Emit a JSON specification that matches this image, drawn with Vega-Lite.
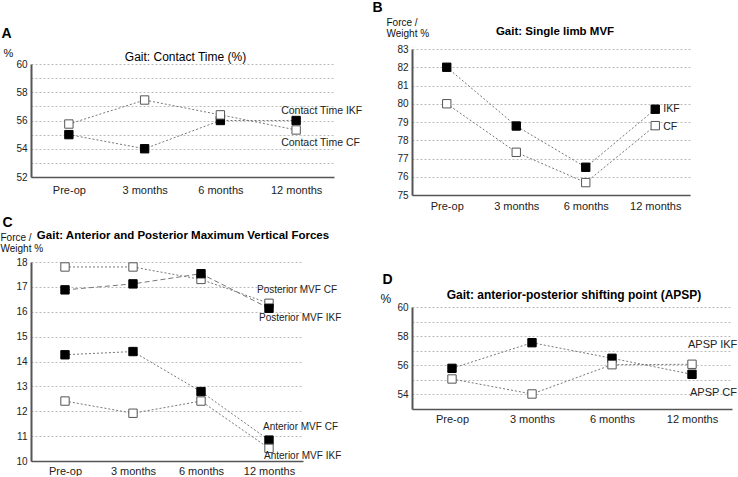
{
  "$schema": "https://vega.github.io/schema/vega-lite/v6.json",
  "background": "white",
  "padding": {"top": 0, "left": 0, "right": 0, "bottom": 0},
  "config": {
    "font": "Liberation Sans",
    "view": {"stroke": null},
    "axis": {
      "labelFont": "Liberation Sans",
      "titleFont": "Liberation Sans",
      "ticks": false,
      "domainColor": "#555",
      "labelColor": "#222",
      "titleColor": "#111"
    },
    "axisX": {
      "domainWidth": 1.5,
      "labelFontSize": 11,
      "labelPadding": 4,
      "labelAngle": 0,
      "grid": false,
      "titleFontSize": 14,
      "titleFontWeight": "bold",
      "titleAlign": "left",
      "titleBaseline": "middle",
      "titleColor": "black"
    },
    "axisY": {
      "domainWidth": 2,
      "labelFontSize": 10,
      "labelPadding": 4,
      "grid": true,
      "gridDash": [2, 2],
      "gridColor": "#bbb",
      "titleAngle": 0,
      "titleAlign": "left",
      "titleBaseline": "bottom",
      "titleFontSize": 10,
      "titleFontWeight": "normal",
      "titleLineHeight": 11
    },
    "title": {"font": "Liberation Sans", "fontSize": 12, "fontWeight": "bold", "frame": "group", "anchor": "middle", "color": "black"},
    "text": {"font": "Liberation Sans", "fontSize": 10, "align": "left", "baseline": "middle", "color": "#222"},
    "point": {"shape": "square", "size": 70, "filled": true, "opacity": 1, "strokeWidth": 1}
  },
  "bounds": "flush",
  "spacing": 381,
  "hconcat": [
    {
      "bounds": "flush",
      "spacing": 0,
      "vconcat": [
        {"width": 10, "height": 15, "data": {"values": [{}]}, "mark": {"type": "point", "opacity": 0}, "encoding": {}},
        {
          "bounds": "flush",
          "spacing": 85,
          "vconcat": [
            {
              "width": 303,
              "height": 113,
              "title": {"text": "Gait: Contact Time (%)", "fontWeight": "normal", "dy": 42, "dx": 3},
              "data": {"values": [
                {"month": "Pre-op", "series": "IKF", "limb": "IKF", "value": 55.0},
                {"month": "3 months", "series": "IKF", "limb": "IKF", "value": 54.0},
                {"month": "6 months", "series": "IKF", "limb": "IKF", "value": 56.0},
                {"month": "12 months", "series": "IKF", "limb": "IKF", "value": 56.0},
                {"month": "Pre-op", "series": "CF", "limb": "CF", "value": 55.75},
                {"month": "3 months", "series": "CF", "limb": "CF", "value": 57.45},
                {"month": "6 months", "series": "CF", "limb": "CF", "value": 56.4},
                {"month": "12 months", "series": "CF", "limb": "CF", "value": 55.33}
              ]},
              "encoding": {
                "x": {"field": "month", "type": "ordinal", "sort": ["Pre-op", "3 months", "6 months", "12 months"],
                      "scale": {"type": "point", "padding": 0.5},
                      "axis": {"title": "A", "titleX": -30, "titleY": -144, "labelPadding": 7}},
                "y": {"field": "value", "type": "quantitative", "scale": {"domain": [52, 60], "nice": false, "zero": false},
                      "axis": {"title": "%", "titleFontSize": 11, "titleX": -28, "titleY": -6,
                               "values": [52, 53, 54, 55, 56, 57, 58, 59, 60],
                               "labelExpr": "datum.value % 2 == 0 ? datum.label : ''"}}
              },
              "layer": [
                {"mark": {"type": "line", "stroke": "#777", "strokeWidth": 1, "strokeDash": [2, 2]}, "encoding": {"detail": {"field": "series"}}},
                {"mark": {"type": "point"},
                 "encoding": {
                   "fill": {"field": "limb", "type": "nominal", "scale": {"domain": ["IKF", "CF"], "range": ["black", "white"]}, "legend": null},
                   "stroke": {"field": "limb", "type": "nominal", "scale": {"domain": ["IKF", "CF"], "range": ["black", "#555"]}, "legend": null}
                 }},
                {"data": {"values": [{"month": "12 months", "value": 56.0, "label": "Contact Time IKF"}]},
                 "mark": {"type": "text", "dx": -15, "dy": -10, "fontSize": 10.5}, "encoding": {"text": {"field": "label"}}},
                {"data": {"values": [{"month": "12 months", "value": 55.33, "label": "Contact Time CF"}]},
                 "mark": {"type": "text", "dx": -15, "dy": 13, "fontSize": 10.5}, "encoding": {"text": {"field": "label"}}}
              ]
            },
            {
              "width": 272,
              "height": 199,
              "title": {"text": "Gait: Anterior and Posterior Maximum Vertical Forces", "fontSize": 11.5, "dy": 30, "dx": 16},
              "data": {"values": [
                {"month": "Pre-op", "series": "Posterior CF", "limb": "CF", "value": 17.8},
                {"month": "3 months", "series": "Posterior CF", "limb": "CF", "value": 17.8},
                {"month": "6 months", "series": "Posterior CF", "limb": "CF", "value": 17.3},
                {"month": "12 months", "series": "Posterior CF", "limb": "CF", "value": 16.34},
                {"month": "Pre-op", "series": "Posterior IKF", "limb": "IKF", "value": 16.88},
                {"month": "3 months", "series": "Posterior IKF", "limb": "IKF", "value": 17.12},
                {"month": "6 months", "series": "Posterior IKF", "limb": "IKF", "value": 17.53},
                {"month": "12 months", "series": "Posterior IKF", "limb": "IKF", "value": 16.14},
                {"month": "Pre-op", "series": "Anterior IKF", "limb": "IKF", "value": 14.27},
                {"month": "3 months", "series": "Anterior IKF", "limb": "IKF", "value": 14.4},
                {"month": "6 months", "series": "Anterior IKF", "limb": "IKF", "value": 12.79},
                {"month": "12 months", "series": "Anterior IKF", "limb": "IKF", "value": 10.84},
                {"month": "Pre-op", "series": "Anterior CF", "limb": "CF", "value": 12.41},
                {"month": "3 months", "series": "Anterior CF", "limb": "CF", "value": 11.92},
                {"month": "6 months", "series": "Anterior CF", "limb": "CF", "value": 12.41},
                {"month": "12 months", "series": "Anterior CF", "limb": "CF", "value": 10.51}
              ]},
              "encoding": {
                "x": {"field": "month", "type": "ordinal", "sort": ["Pre-op", "3 months", "6 months", "12 months"],
                      "scale": {"type": "point", "padding": 0.5},
                      "axis": {"title": "C", "titleX": -29, "titleY": -239}},
                "y": {"field": "value", "type": "quantitative", "scale": {"domain": [10, 18], "nice": false, "zero": false},
                      "axis": {"title": ["Force /", "Weight %"], "titleX": -31, "titleY": -20,
                               "values": [10, 10.5, 11, 11.5, 12, 12.5, 13, 13.5, 14, 14.5, 15, 15.5, 16, 16.5, 17, 17.5, 18],
                               "format": "d",
                               "labelExpr": "datum.value % 1 == 0 ? datum.label : ''"}}
              },
              "layer": [
                {"mark": {"type": "line", "stroke": "#777", "strokeWidth": 1},
                 "encoding": {
                   "detail": {"field": "series"},
                   "strokeDash": {"field": "series", "type": "nominal",
                                  "scale": {"domain": ["Posterior CF", "Posterior IKF", "Anterior IKF", "Anterior CF"], "range": [[2, 2], [5, 3], [2, 2], [2, 2]]},
                                  "legend": null}
                 }},
                {"mark": {"type": "point"},
                 "encoding": {
                   "fill": {"field": "limb", "type": "nominal", "scale": {"domain": ["IKF", "CF"], "range": ["black", "white"]}, "legend": null},
                   "stroke": {"field": "limb", "type": "nominal", "scale": {"domain": ["IKF", "CF"], "range": ["black", "#555"]}, "legend": null}
                 }},
                {"data": {"values": [{"month": "12 months", "value": 16.34, "label": "Posterior MVF CF"}]},
                 "mark": {"type": "text", "dx": -12, "dy": -13}, "encoding": {"text": {"field": "label"}}},
                {"data": {"values": [{"month": "12 months", "value": 16.14, "label": "Posterior MVF IKF"}]},
                 "mark": {"type": "text", "dx": -10, "dy": 10}, "encoding": {"text": {"field": "label"}}},
                {"data": {"values": [{"month": "12 months", "value": 10.84, "label": "Anterior MVF CF"}]},
                 "mark": {"type": "text", "dx": -6, "dy": -13}, "encoding": {"text": {"field": "label"}}},
                {"data": {"values": [{"month": "12 months", "value": 10.51, "label": "Anterior MVF IKF"}]},
                 "mark": {"type": "text", "dx": -5, "dy": 8}, "encoding": {"text": {"field": "label"}}}
              ]
            }
          ]
        }
      ]
    },
    {
      "bounds": "flush",
      "spacing": 112,
      "vconcat": [
        {
          "width": 278,
          "height": 146,
          "title": {"text": "Gait: Single limb MVF", "fontSize": 11.5, "dy": 41, "dx": 4},
          "data": {"values": [
            {"month": "Pre-op", "series": "IKF", "limb": "IKF", "value": 82.0},
            {"month": "3 months", "series": "IKF", "limb": "IKF", "value": 78.78},
            {"month": "6 months", "series": "IKF", "limb": "IKF", "value": 76.52},
            {"month": "12 months", "series": "IKF", "limb": "IKF", "value": 79.7},
            {"month": "Pre-op", "series": "CF", "limb": "CF", "value": 80.0},
            {"month": "3 months", "series": "CF", "limb": "CF", "value": 77.34},
            {"month": "6 months", "series": "CF", "limb": "CF", "value": 75.68},
            {"month": "12 months", "series": "CF", "limb": "CF", "value": 78.8}
          ]},
          "encoding": {
            "x": {"field": "month", "type": "ordinal", "sort": ["Pre-op", "3 months", "6 months", "12 months"],
                  "scale": {"type": "point", "padding": 0.5},
                  "axis": {"title": "B", "titleX": -40, "titleY": -188, "labelPadding": 5}},
            "y": {"field": "value", "type": "quantitative", "scale": {"domain": [75, 83], "nice": false, "zero": false},
                  "axis": {"title": ["Force /", "Weight %"], "titleX": -26, "titleY": -22,
                           "values": [75, 76, 77, 78, 79, 80, 81, 82, 83]}}
          },
          "layer": [
            {"mark": {"type": "line", "stroke": "#777", "strokeWidth": 1, "strokeDash": [2, 2]}, "encoding": {"detail": {"field": "series"}}},
            {"mark": {"type": "point"},
             "encoding": {
               "fill": {"field": "limb", "type": "nominal", "scale": {"domain": ["IKF", "CF"], "range": ["black", "white"]}, "legend": null},
               "stroke": {"field": "limb", "type": "nominal", "scale": {"domain": ["IKF", "CF"], "range": ["black", "#555"]}, "legend": null}
             }},
            {"data": {"values": [{"month": "12 months", "value": 79.7, "label": "IKF"}]},
             "mark": {"type": "text", "dx": 8, "dy": 0, "fontSize": 10.5}, "encoding": {"text": {"field": "label"}}},
            {"data": {"values": [{"month": "12 months", "value": 78.8, "label": "CF"}]},
             "mark": {"type": "text", "dx": 8, "dy": 1.5, "fontSize": 10.5}, "encoding": {"text": {"field": "label"}}}
          ]
        },
        {
          "width": 320,
          "height": 102,
          "title": {"text": "Gait: anterior-posterior shifting point (APSP)", "dy": 34, "dx": 2},
          "data": {"values": [
            {"month": "Pre-op", "series": "IKF", "limb": "IKF", "value": 55.79},
            {"month": "3 months", "series": "IKF", "limb": "IKF", "value": 57.55},
            {"month": "6 months", "series": "IKF", "limb": "IKF", "value": 56.48},
            {"month": "12 months", "series": "IKF", "limb": "IKF", "value": 55.38},
            {"month": "Pre-op", "series": "CF", "limb": "CF", "value": 55.06},
            {"month": "3 months", "series": "CF", "limb": "CF", "value": 54.03},
            {"month": "6 months", "series": "CF", "limb": "CF", "value": 56.04},
            {"month": "12 months", "series": "CF", "limb": "CF", "value": 56.07}
          ]},
          "encoding": {
            "x": {"field": "month", "type": "ordinal", "sort": ["Pre-op", "3 months", "6 months", "12 months"],
                  "scale": {"type": "point", "padding": 0.5},
                  "axis": {"title": "D", "titleX": -30, "titleY": -130}},
            "y": {"field": "value", "type": "quantitative", "scale": {"domain": [53, 60], "nice": false, "zero": false},
                  "axis": {"title": "%", "titleFontSize": 12, "titleX": -32, "titleY": -2,
                           "values": [54, 55, 56, 57, 58, 59, 60],
                           "labelExpr": "datum.value % 2 == 0 ? datum.label : ''"}}
          },
          "layer": [
            {"mark": {"type": "line", "stroke": "#777", "strokeWidth": 1, "strokeDash": [2, 2]}, "encoding": {"detail": {"field": "series"}}},
            {"mark": {"type": "point"},
             "encoding": {
               "fill": {"field": "limb", "type": "nominal", "scale": {"domain": ["IKF", "CF"], "range": ["black", "white"]}, "legend": null},
               "stroke": {"field": "limb", "type": "nominal", "scale": {"domain": ["IKF", "CF"], "range": ["black", "#555"]}, "legend": null}
             }},
            {"data": {"values": [{"month": "12 months", "value": 55.38, "label": "APSP IKF"}]},
             "mark": {"type": "text", "dx": -4, "dy": -29, "fontSize": 11}, "encoding": {"text": {"field": "label"}}},
            {"data": {"values": [{"month": "12 months", "value": 56.07, "label": "APSP CF"}]},
             "mark": {"type": "text", "dx": -2, "dy": 29, "fontSize": 11}, "encoding": {"text": {"field": "label"}}}
          ]
        }
      ]
    }
  ]
}
